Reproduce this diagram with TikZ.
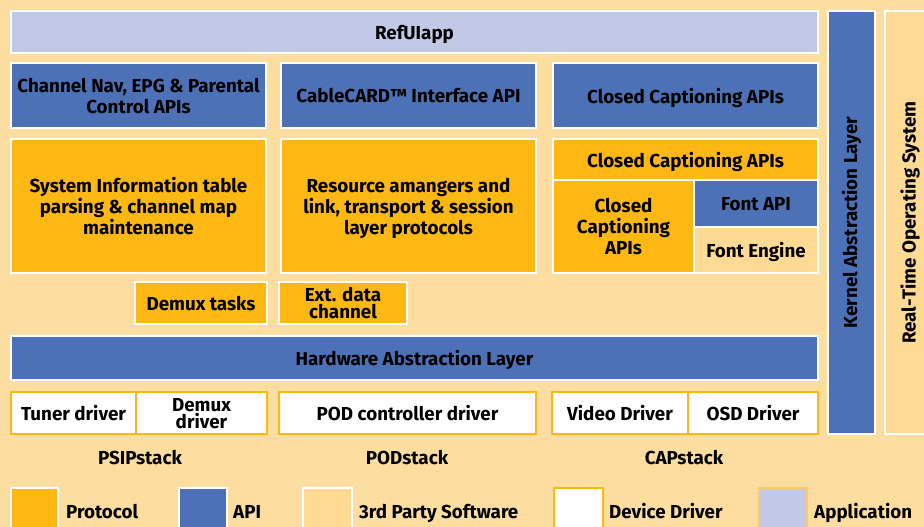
\documentclass[tikz,border=0pt]{standalone}
\usepackage{fontspec}
\setmainfont{Fira Sans}
\definecolor{bgc}{HTML}{FEDEA0}
\definecolor{protc}{HTML}{FDB813}
\definecolor{apic}{HTML}{4C71B6}
\definecolor{thirdc}{HTML}{FEDA94}
\definecolor{appc}{HTML}{C2C9E6}
\definecolor{appb}{HTML}{FFC966}
\tikzset{
  box/.style={draw=white, line width=1.6pt, inner sep=0pt, align=center, text depth=0pt, font=\bfseries\fontsize{18.8}{21}\selectfont, text=black},
  proto/.style={box, fill=protc},
  apibox/.style={box, fill=apic},
  third/.style={box, fill=thirdc},
  appbox/.style={box, fill=appc},
  drv/.style={box, fill=white, draw=protc},
  lbl/.style={font=\bfseries\fontsize{18.8}{21}\selectfont, inner sep=0pt},
  tight/.style={font=\bfseries\fontsize{18.8}{17}\selectfont},
}
\begin{document}
\begin{tikzpicture}[x=1pt,y=-1pt]
\fill[bgc] (0,0) rectangle (924,527);
\useasboundingbox (0,0) rectangle (924,527);
\node[appbox, minimum width=807pt, minimum height=42pt] (app) at (414.5,32) {RefUIapp};
\node[apibox, minimum width=255pt, minimum height=65pt] (chn) at (138.5,95.5) {Channel Nav, EPG \& Parental\\Control APIs};
\node[apibox, minimum width=255pt, minimum height=65pt] (cc) at (408.5,95.5) {CableCARD™ Interface API};
\node[apibox, minimum width=265pt, minimum height=65pt] (ccapi) at (685.5,95.5) {Closed Captioning APIs};
\node[proto, minimum width=255pt, minimum height=134pt] (si) at (138.5,206) {System Information table\\parsing \& channel map\\maintenance};
\node[proto, minimum width=255pt, minimum height=134pt] (rm) at (408.5,206) {Resource amangers and\\link, transport \& session\\layer protocols};
\node[proto, minimum width=265pt, minimum height=41pt] (ccp) at (685.5,159.5) {Closed Captioning APIs};
\node[proto, minimum width=141pt, minimum height=93pt] (ccl) at (623.5,226.5) {Closed\\Captioning\\APIs};
\node[apibox, minimum width=124pt, minimum height=47pt] (fapi) at (756,203.5) {Font API};
\node[third, minimum width=124pt, minimum height=46pt] (feng) at (756,250) {Font Engine};
\node[proto, minimum width=132pt, minimum height=42pt] (dmx) at (201,303) {Demux tasks};
\node[proto, tight, minimum width=128pt, minimum height=42pt] (ext) at (343,303) {Ext. data\\channel};
\node[apibox, minimum width=807pt, minimum height=44pt] (hal) at (414.5,358) {Hardware Abstraction Layer};
\node[drv, minimum width=125pt, minimum height=42pt] (tun) at (73.5,413) {Tuner driver};
\node[drv, tight, minimum width=131pt, minimum height=42pt] (dmd) at (201.5,413) {Demux\\driver};
\node[drv, minimum width=257pt, minimum height=42pt] (pod) at (407.5,413) {POD controller driver};
\node[drv, minimum width=136pt, minimum height=42pt] (vid) at (620,413) {Video Driver};
\node[drv, minimum width=130pt, minimum height=42pt] (osd) at (753,413) {OSD Driver};
\node[apibox, minimum width=47pt, minimum height=423pt] (kal) at (851.5,222.5) {};
\node[lbl, rotate=90] (kalt) at (kal.center) {Kernel Abstraction Layer};
\node[third, minimum width=50pt, minimum height=423pt] (rtos) at (910,222.5) {};
\node[lbl, rotate=90] (rtost) at (rtos.center) {Real-Time Operating System};
\node[lbl, anchor=base] (psip) at (140,464) {PSIPstack};
\node[lbl, anchor=base] (pods) at (407,464) {PODstack};
\node[lbl, anchor=base] (caps) at (684,464) {CAPstack};
\node[proto, minimum width=47pt, minimum height=48pt] (lp) at (34.5,512) {};
\node[lbl, anchor=base west] (lpt) at (66,518) {Protocol};
\node[apibox, minimum width=48pt, minimum height=48pt] (la) at (203,512) {};
\node[lbl, anchor=base west] (lat) at (233,518) {API};
\node[third, minimum width=49pt, minimum height=48pt] (l3) at (327.5,512) {};
\node[lbl, anchor=base west] (l3t) at (359,518) {3rd Party Software};
\node[drv, minimum width=49pt, minimum height=48pt] (ld) at (578.5,512) {};
\node[lbl, anchor=base west] (ldt) at (609,518) {Device Driver};
\node[appbox, draw=appb, minimum width=48pt, minimum height=48pt] (lap) at (783,512) {};
\node[lbl, anchor=base west] (lapt) at (814,518) {Application};
\end{tikzpicture}
\end{document}
